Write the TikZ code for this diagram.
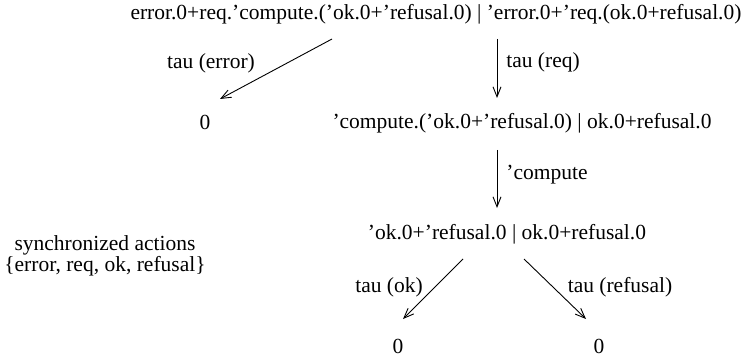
\documentclass[tikz,border=0pt]{standalone}
\usepackage{fontspec}
\setmainfont{Liberation Serif}
\usetikzlibrary{arrows.meta}
\begin{document}
\begin{tikzpicture}[x=1pt,y=-1pt,
  every node/.style={inner sep=0pt,font=\fontsize{21.5}{21.5}\selectfont},
  trans/.style={line width=0.9pt,-{Straight Barb[length=10pt,width=8pt,line width=0.9pt]}}]
\useasboundingbox (0,0) rectangle (743,358);

% process states
\node (top)  at (436,14)  {error.0+req.'compute.('ok.0+'refusal.0) | 'error.0+'req.(ok.0+refusal.0)};
\node (zeroA) at (205,122) {0};
\node (mid)  at (522,123) {'compute.('ok.0+'refusal.0) | ok.0+refusal.0};
\node (bot)  at (507,234) {'ok.0+'refusal.0 | ok.0+refusal.0};
\node (zeroB) at (398,346) {0};
\node (zeroC) at (599,346) {0};
\node[align=center] (sync) at (105,256) {synchronized actions\\\{error, req, ok, refusal\}};

% end points of the transitions
\coordinate (eS) at (332,39);  \coordinate (eT) at (220,99);
\coordinate (rS) at (497,39);  \coordinate (rT) at (497,98);
\coordinate (cS) at (497,150); \coordinate (cT) at (497,208);
\coordinate (oS) at (463,259); \coordinate (oT) at (403,319);
\coordinate (fS) at (524,259); \coordinate (fT) at (586,319);

% transitions
\draw[trans] (eS) -- (eT);
\draw[trans] (rS) -- (rT);
\draw[trans] (cS) -- (cT);
\draw[trans] (oS) -- (oT);
\draw[trans] (fS) -- (fT);

% transition labels
\node (lE) at (211,63)  {tau (error)};
\node (lR) at (543,62)  {tau (req)};
\node (lC) at (547,175) {'compute};
\node (lO) at (389,287) {tau (ok)};
\node (lF) at (620,287) {tau (refusal)};
\end{tikzpicture}
\end{document}
